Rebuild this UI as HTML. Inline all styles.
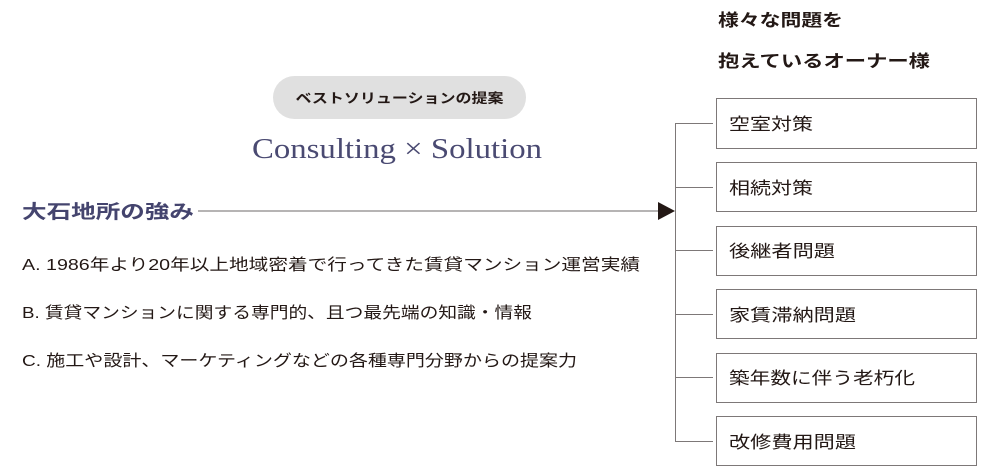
<!DOCTYPE html>
<html><head><meta charset="utf-8"><style>
html,body{margin:0;padding:0;background:#fff;width:1000px;height:476px;overflow:hidden}
text{font-family:"Liberation Sans","Noto Sans CJK JP",sans-serif}
</style></head><body>
<svg width="1000" height="476" viewBox="0 0 1000 476" xmlns="http://www.w3.org/2000/svg">
<rect x="273" y="76" width="253" height="43" rx="21.5" fill="#e0e0e0"/>
<text x="399.5" y="103" text-anchor="middle" font-size="13.5" font-weight="bold" fill="#231815" textLength="208" lengthAdjust="spacingAndGlyphs">ベストソリューションの提案</text>
<text x="252" y="158" font-size="28" fill="#4a4a72" textLength="290" lengthAdjust="spacingAndGlyphs" style="font-family:'Liberation Serif',serif">Consulting × Solution</text>
<text x="22" y="218" font-size="19" font-weight="bold" fill="#44446e" textLength="172" lengthAdjust="spacingAndGlyphs">大石地所の強み</text>
<line x1="198" y1="211" x2="660" y2="211" stroke="#6e6a6a" stroke-width="1"/>
<polygon points="658,202 675,211 658,220" fill="#231815"/>
<text x="22" y="270" font-size="16" fill="#231815" textLength="618" lengthAdjust="spacingAndGlyphs">A. 1986年より20年以上地域密着で行ってきた賃貸マンション運営実績</text>
<text x="22" y="318" font-size="16" fill="#231815" textLength="510" lengthAdjust="spacingAndGlyphs">B. 賃貸マンションに関する専門的、且つ最先端の知識・情報</text>
<text x="22" y="366" font-size="16" fill="#231815" textLength="555" lengthAdjust="spacingAndGlyphs">C. 施工や設計、マーケティングなどの各種専門分野からの提案力</text>
<text x="718" y="26" font-size="17" font-weight="bold" fill="#231815" textLength="125" lengthAdjust="spacingAndGlyphs">様々な問題を</text>
<text x="718" y="67" font-size="17" font-weight="bold" fill="#231815" textLength="212" lengthAdjust="spacingAndGlyphs">抱えているオーナー様</text>
<g stroke="#7d7878" stroke-width="1" fill="none">
<line x1="675.5" y1="123" x2="675.5" y2="441.5"/>
<line x1="675" y1="123.5" x2="713" y2="123.5"/>
<line x1="675" y1="187.5" x2="713" y2="187.5"/>
<line x1="675" y1="250.5" x2="713" y2="250.5"/>
<line x1="675" y1="314.5" x2="713" y2="314.5"/>
<line x1="675" y1="377.5" x2="713" y2="377.5"/>
<line x1="675" y1="441.5" x2="713" y2="441.5"/>
<rect x="716.5" y="98.5" width="260" height="50"/>
<rect x="716.5" y="162.5" width="260" height="49"/>
<rect x="716.5" y="226.5" width="260" height="49"/>
<rect x="716.5" y="289.5" width="260" height="49"/>
<rect x="716.5" y="353.5" width="260" height="49"/>
<rect x="716.5" y="416.5" width="260" height="49"/>
</g>
<g font-size="17" fill="#231815">
<text x="729" y="130" textLength="84" lengthAdjust="spacingAndGlyphs">空室対策</text>
<text x="729" y="194" textLength="84" lengthAdjust="spacingAndGlyphs">相続対策</text>
<text x="729" y="257" textLength="106" lengthAdjust="spacingAndGlyphs">後継者問題</text>
<text x="729" y="321" textLength="127" lengthAdjust="spacingAndGlyphs">家賃滞納問題</text>
<text x="729" y="384" textLength="186" lengthAdjust="spacingAndGlyphs">築年数に伴う老朽化</text>
<text x="729" y="448" textLength="127" lengthAdjust="spacingAndGlyphs">改修費用問題</text>
</g>
</svg>
</body></html>
